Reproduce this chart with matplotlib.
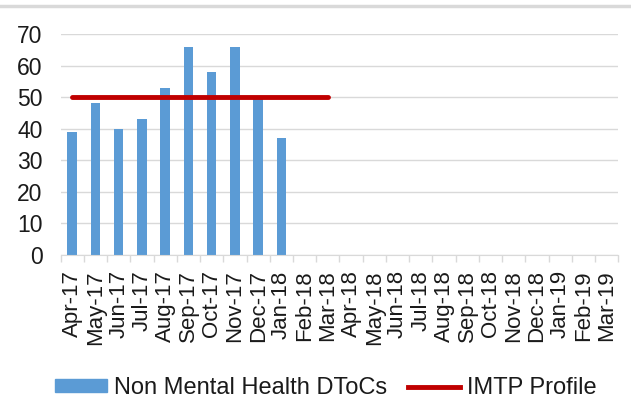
import matplotlib
matplotlib.use("Agg")
import matplotlib.pyplot as plt
from matplotlib.lines import Line2D
from matplotlib.patches import Rectangle
import numpy as np

plt.rcParams['font.family'] = ['Liberation Sans', 'DejaVu Sans']

months = ["Apr-17", "May-17", "Jun-17", "Jul-17", "Aug-17", "Sep-17", "Oct-17", "Nov-17",
          "Dec-17", "Jan-18", "Feb-18", "Mar-18", "Apr-18", "May-18", "Jun-18", "Jul-18",
          "Aug-18", "Sep-18", "Oct-18", "Nov-18", "Dec-18", "Jan-19", "Feb-19", "Mar-19"]
dtocs = [39, 48, 40, 43, 53, 66, 58, 66, 50, 37]
imtp = [50, 50, 50, 50, 50, 50, 50, 50, 50, 50, 50, 50]

bar_color = "#5B9BD5"
line_color = "#C00000"
grid_color = "#D9D9D9"
text_color = "#1a1a1a"

fig = plt.figure(figsize=(6.31, 4.0), dpi=100)
ax = fig.add_axes([0.096, 0.3625, 0.884, 0.5525])

x = np.arange(len(months))
ax.bar(x[:len(dtocs)], dtocs, width=0.41, color=bar_color, zorder=2)
ax.plot(x[:len(imtp)], imtp, color=line_color, lw=3.5, solid_capstyle='round', zorder=3)

ax.set_xlim(-0.5, len(months) - 0.5)
ax.set_ylim(0, 70)
ax.set_yticks(range(0, 71, 10))
ax.tick_params(axis='y', length=0, labelsize=16.5, pad=13, colors=text_color)
ax.yaxis.grid(True, color=grid_color, lw=1, zorder=0)
ax.set_axisbelow(True)

ax.set_xticks(x)
ax.set_xticklabels(months, rotation=90, fontsize=16, color=text_color)
ax.set_xticks(np.arange(-0.5, len(months)), minor=True)
ax.tick_params(axis='x', which='major', length=0, pad=11)
ax.tick_params(axis='x', which='minor', length=5, color=grid_color, width=1)

for s in ['top', 'right', 'left']:
    ax.spines[s].set_visible(False)
ax.spines['bottom'].set_color(grid_color)

# top frame line
fig.add_artist(Line2D([0, 1], [0.985, 0.985], color='#D9D9D9', lw=2.5, transform=fig.transFigure))

handles = [Rectangle((0, 0), 1, 1, color=bar_color),
           Line2D([0], [0], color=line_color, lw=3.5)]
leg = fig.legend(handles, ["Non Mental Health DToCs", "IMTP Profile"],
                 loc='center', bbox_to_anchor=(0.516, 0.03), ncol=2, frameon=False,
                 fontsize=17, handlelength=2.2, handleheight=0.45, columnspacing=0.9,
                 handletextpad=0.3, labelcolor=text_color, borderpad=0.2)

fig.savefig("out.png", dpi=100)
